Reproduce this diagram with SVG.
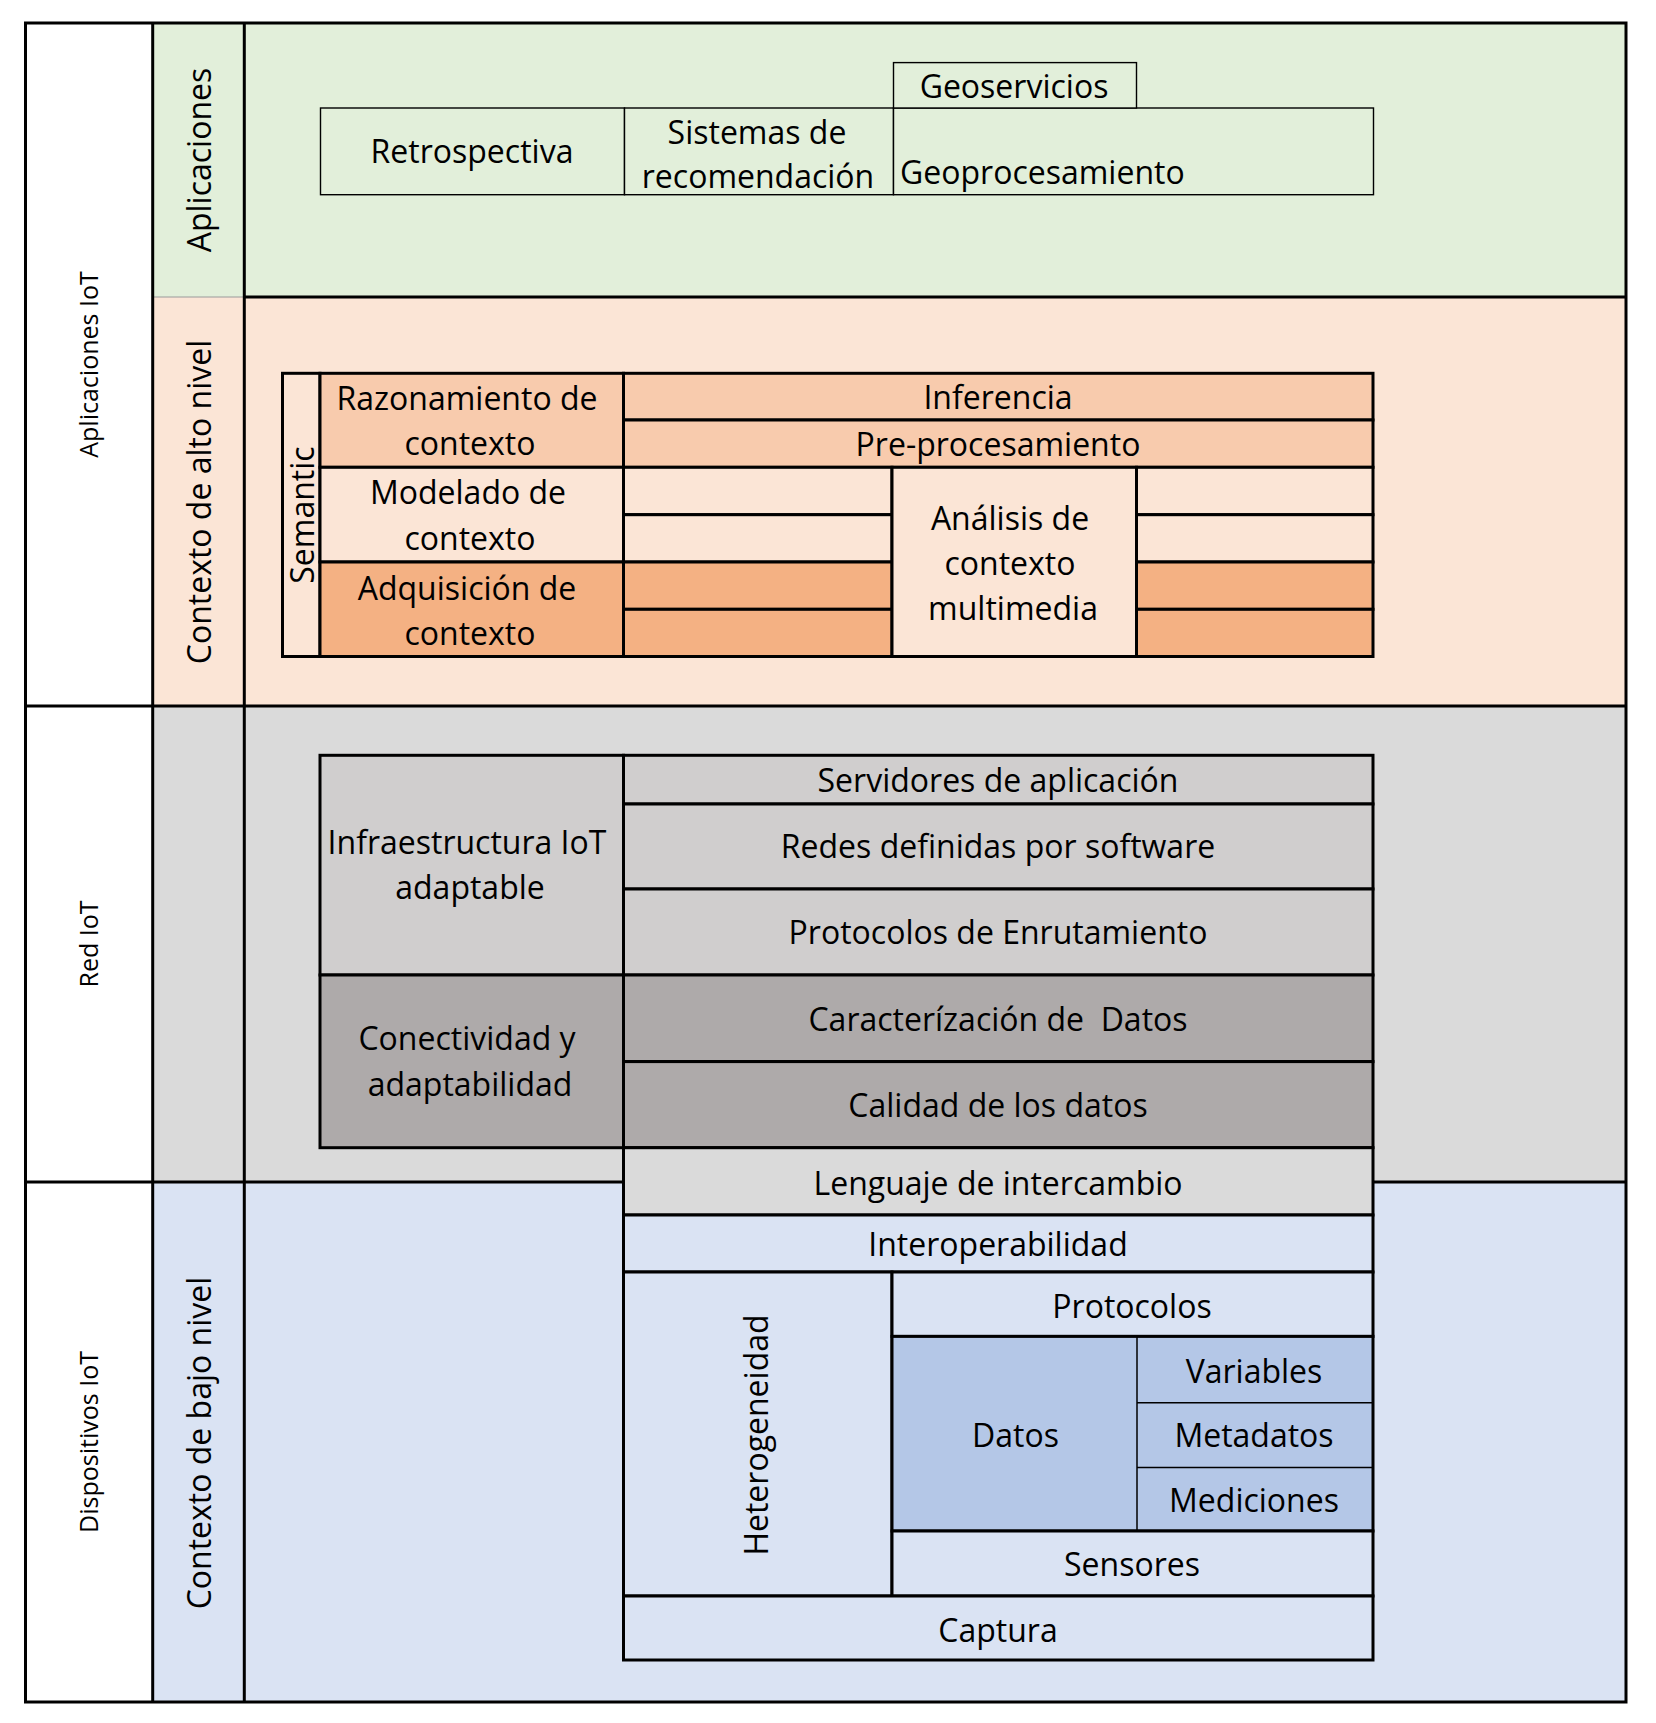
<svg xmlns="http://www.w3.org/2000/svg" width="1656" height="1723" viewBox="0 0 1656 1723">
<style>
.t{font-family:"Open Sans","Noto Sans","Liberation Sans",sans-serif;font-size:32px;fill:#000;text-anchor:middle}
.s{font-family:"Open Sans","Noto Sans","Liberation Sans",sans-serif;font-size:25px;fill:#000;text-anchor:middle}
.b{stroke:#000;stroke-width:3}
.th{stroke:#000;stroke-width:1.4}
.tn{stroke:#000;stroke-width:1.5}
.ln{stroke:#000;stroke-width:3;fill:none}
</style>
<rect width="1656" height="1723" fill="#fff"/>
<g id="layers">
<rect x="25.5" y="23" width="127.2" height="1679" fill="#fff"/>
<rect x="152.7" y="23" width="1473.3" height="274" fill="#E2EFDA"/>
<rect x="152.7" y="297" width="1473.3" height="409" fill="#FBE5D6"/>
<rect x="152.7" y="706" width="1473.3" height="476" fill="#DADADA"/>
<rect x="152.7" y="1182" width="1473.3" height="520" fill="#DAE3F3"/>
<line x1="152.7" y1="297" x2="244.3" y2="297" stroke="#9a9a9a" stroke-width="1"/>
<line class="ln" x1="244.3" y1="297" x2="1626" y2="297"/>
<line class="ln" x1="25.5" y1="706" x2="1626" y2="706"/>
<line class="ln" x1="25.5" y1="1182" x2="623.5" y2="1182"/>
<line class="ln" x1="1373" y1="1182" x2="1626" y2="1182"/>
<line class="ln" x1="152.7" y1="23" x2="152.7" y2="1702"/>
<line class="ln" x1="244.3" y1="23" x2="244.3" y2="1702"/>
<rect class="ln" x="25.5" y="23" width="1600.5" height="1679"/>
</g>
<g id="layer-labels">
<text class="s" transform="translate(98 364.5) rotate(-90)">Aplicaciones IoT</text>
<text class="s" transform="translate(98 944) rotate(-90)">Red IoT</text>
<text class="s" transform="translate(98 1442) rotate(-90)">Dispositivos IoT</text>
<text class="t" transform="translate(211 160) rotate(-90)">Aplicaciones</text>
<text class="t" transform="translate(211 502) rotate(-90)">Contexto de alto nivel</text>
<text class="t" transform="translate(211 1443) rotate(-90)">Contexto de bajo nivel</text>
</g>
<g id="aplicaciones">
<g id="n-retrospectiva"><rect class="th" x="320.5" y="108" width="304" height="86.7" fill="#E2EFDA"/><text class="t" x="472" y="163">Retrospectiva</text></g>
<g id="n-sistemas"><rect class="th" x="624.5" y="108" width="269" height="86.7" fill="#E2EFDA"/><text class="t" x="757" y="144">Sistemas de</text><text class="t" x="758" y="188">recomendación</text></g>
<g id="n-geoproc"><rect class="th" x="893.5" y="108" width="480" height="86.7" fill="#E2EFDA"/><text class="t" x="900" y="183.5" style="text-anchor:start">Geoprocesamiento</text></g>
<g id="n-geoserv"><rect class="th" x="893.5" y="62.6" width="243" height="45.4" fill="#E2EFDA"/><text class="t" x="1014" y="98">Geoservicios</text></g>
</g>
<g id="contexto-alto">
<g id="n-semantic"><rect class="b" x="282.5" y="373.3" width="37.5" height="283.2" fill="#FBE5D6"/><text class="t" transform="translate(314 515) rotate(-90)">Semantic</text></g>
<g id="n-razonamiento"><rect class="b" x="320" y="373.3" width="303.5" height="94" fill="#F8CBAD"/><text class="t" x="467" y="410">Razonamiento de</text><text class="t" x="470" y="455">contexto</text></g>
<g id="n-modelado"><rect class="b" x="320" y="467.3" width="303.5" height="94.7" fill="#FBE5D6"/><text class="t" x="468" y="504">Modelado de</text><text class="t" x="470" y="549.5">contexto</text></g>
<g id="n-adquisicion"><rect class="b" x="320" y="562" width="303.5" height="94.5" fill="#F4B183"/><text class="t" x="467" y="600">Adquisición de</text><text class="t" x="470" y="645">contexto</text></g>
<g id="n-inferencia"><rect class="b" x="623.5" y="373.3" width="749.5" height="46.7" fill="#F8CBAD"/><text class="t" x="998" y="409">Inferencia</text></g>
<g id="n-preproc"><rect class="b" x="623.5" y="420" width="749.5" height="47.3" fill="#F8CBAD"/><text class="t" x="998" y="456">Pre-procesamiento</text></g>
<g id="n-mod-l1"><rect class="b" x="623.5" y="467.3" width="268.5" height="47.4" fill="#FBE5D6"/></g>
<g id="n-mod-l2"><rect class="b" x="623.5" y="514.7" width="268.5" height="47.3" fill="#FBE5D6"/></g>
<g id="n-adq-l1"><rect class="b" x="623.5" y="562" width="268.5" height="47.3" fill="#F4B183"/></g>
<g id="n-adq-l2"><rect class="b" x="623.5" y="609.3" width="268.5" height="47.2" fill="#F4B183"/></g>
<g id="n-analisis"><rect class="b" x="892" y="467.3" width="244.5" height="189.2" fill="#FBE5D6"/><text class="t" x="1010" y="530">Análisis de</text><text class="t" x="1010" y="575">contexto</text><text class="t" x="1013" y="620">multimedia</text></g>
<g id="n-mod-r1"><rect class="b" x="1136.5" y="467.3" width="236.5" height="47.4" fill="#FBE5D6"/></g>
<g id="n-mod-r2"><rect class="b" x="1136.5" y="514.7" width="236.5" height="47.3" fill="#FBE5D6"/></g>
<g id="n-adq-r1"><rect class="b" x="1136.5" y="562" width="236.5" height="47.3" fill="#F4B183"/></g>
<g id="n-adq-r2"><rect class="b" x="1136.5" y="609.3" width="236.5" height="47.2" fill="#F4B183"/></g>
</g>
<g id="red-iot">
<g id="n-infra"><rect class="b" x="320" y="755.3" width="303.5" height="219.7" fill="#D0CECE"/><text class="t" x="467" y="854">Infraestructura IoT</text><text class="t" x="470" y="899">adaptable</text></g>
<g id="n-servidores"><rect class="b" x="623.5" y="755.3" width="749.5" height="48.7" fill="#D0CECE"/><text class="t" x="998" y="792">Servidores de aplicación</text></g>
<g id="n-redes"><rect class="b" x="623.5" y="804" width="749.5" height="85" fill="#D0CECE"/><text class="t" x="998" y="858">Redes definidas por software</text></g>
<g id="n-enrutamiento"><rect class="b" x="623.5" y="889" width="749.5" height="86" fill="#D0CECE"/><text class="t" x="998" y="944">Protocolos de Enrutamiento</text></g>
<g id="n-conectividad"><rect class="b" x="320" y="975" width="303.5" height="172.7" fill="#AEAAAA"/><text class="t" x="467" y="1049.5">Conectividad y</text><text class="t" x="470" y="1096">adaptabilidad</text></g>
<g id="n-caracterizacion"><rect class="b" x="623.5" y="975" width="749.5" height="86.6" fill="#AEAAAA"/><text class="t" x="998" y="1031" xml:space="preserve">Caracterízación de  Datos</text></g>
<g id="n-calidad"><rect class="b" x="623.5" y="1061.6" width="749.5" height="86.1" fill="#AEAAAA"/><text class="t" x="998" y="1116.6">Calidad de los datos</text></g>
<g id="n-lenguaje"><rect class="b" x="623.5" y="1147.7" width="749.5" height="67.3" fill="#DADADA"/><text class="t" x="998" y="1194.6">Lenguaje de intercambio</text></g>
</g>
<g id="dispositivos">
<g id="n-interop"><rect class="b" x="623.5" y="1215" width="749.5" height="57" fill="#DAE3F3"/><text class="t" x="998" y="1256">Interoperabilidad</text></g>
<g id="n-hetero"><rect class="b" x="623.5" y="1272" width="268.5" height="324" fill="#DAE3F3"/><text class="t" transform="translate(768 1435) rotate(-90)">Heterogeneidad</text></g>
<g id="n-protocolos"><rect class="b" x="892" y="1272" width="481" height="64.4" fill="#DAE3F3"/><text class="t" x="1132" y="1317.7">Protocolos</text></g>
<g id="n-datos"><rect x="892" y="1336.4" width="481" height="194.6" fill="#B4C7E7"/>
<line class="tn" x1="1137" y1="1336.4" x2="1137" y2="1531"/>
<line class="tn" x1="1137" y1="1402.8" x2="1373" y2="1402.8"/>
<line class="tn" x1="1137" y1="1467.5" x2="1373" y2="1467.5"/>
<rect class="b" x="892" y="1336.4" width="481" height="194.6" fill="none"/>
<text class="t" x="1015.5" y="1447">Datos</text></g>
<g id="n-variables"><text class="t" x="1254" y="1382.6">Variables</text></g>
<g id="n-metadatos"><text class="t" x="1254" y="1447">Metadatos</text></g>
<g id="n-mediciones"><text class="t" x="1254" y="1512">Mediciones</text></g>
<g id="n-sensores"><rect class="b" x="892" y="1531" width="481" height="65" fill="#DAE3F3"/><text class="t" x="1132" y="1576">Sensores</text></g>
<g id="n-captura"><rect class="b" x="623.5" y="1596" width="749.5" height="64" fill="#DAE3F3"/><text class="t" x="998" y="1642">Captura</text></g>
</g>
</svg>
